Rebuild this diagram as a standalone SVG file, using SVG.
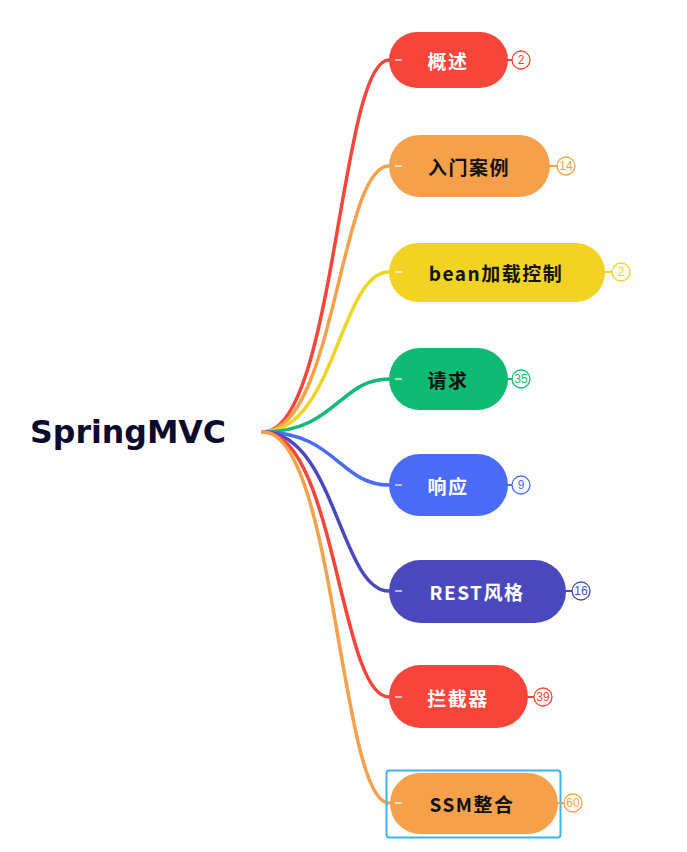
<svg xmlns="http://www.w3.org/2000/svg" width="687" height="852" viewBox="0 0 687 852">
<style>
.lbl{font-family:"Noto Sans CJK SC","DejaVu Sans",sans-serif;font-weight:700;font-size:19px;letter-spacing:1.5px;text-anchor:middle;dominant-baseline:central}
.cnt{font-family:"Liberation Sans",Arial,sans-serif;font-size:12px;text-anchor:middle;dominant-baseline:central}
.conn{fill:none;stroke-width:3.5;stroke-linecap:round}
.tick{stroke:#fff;stroke-width:1.5;opacity:.8}
.cc{fill:#fff;stroke-width:1.3}
</style>
<rect width="687" height="852" fill="#fff"/>
<g id="connectors">
<path class="conn" stroke="#F8453B" d="M263,432 C335,432 340,60 389,60"/>
<path class="conn" stroke="#F5A14C" d="M263,432 C335,432 340,166 389,166"/>
<path class="conn" stroke="#F2D324" d="M263,432 C335,432 340,272 389,272"/>
<path class="conn" stroke="#10BA74" d="M263,432 C335,432 340,379 389,379"/>
<path class="conn" stroke="#4A6BF5" d="M263,432 C335,432 340,485 389,485"/>
<path class="conn" stroke="#4B48BE" d="M263,432 C335,432 340,591 389,591"/>
<path class="conn" stroke="#F8453B" d="M263,432 C335,432 340,697 389,697"/>
<path class="conn" stroke="#F5A14C" d="M263,432 C335,432 340,803 389,803"/>
<circle cx="263" cy="432" r="2" fill="#F5A14C"/>
</g>
<g id="root">
<text x="30" y="432" font-family="'DejaVu Sans','Noto Sans',sans-serif" font-weight="700" font-size="32" fill="#0B0B2E" dominant-baseline="central" textLength="196" lengthAdjust="spacingAndGlyphs">SpringMVC</text>
</g>
<g id="n1">
<line x1="505" y1="60" x2="512" y2="60" stroke="#F8453B" stroke-width="2"/>
<rect x="389" y="32" width="119" height="56" rx="28" fill="#F8453B"/>
<line class="tick" x1="395" y1="60" x2="402" y2="60"/>
<text class="lbl" x="448" y="60" fill="#fff">概述</text>
<circle class="cc" cx="521" cy="60" r="9" stroke="#F8453B"/>
<text class="cnt" x="521" y="60" fill="#F8453B">2</text>
</g>
<g id="n2">
<line x1="547" y1="166" x2="557" y2="166" stroke="#F5A14C" stroke-width="2"/>
<rect x="389" y="135" width="161" height="62" rx="31" fill="#F5A14C"/>
<line class="tick" x1="395" y1="166" x2="402" y2="166"/>
<text class="lbl" x="469" y="166" fill="#111">入门案例</text>
<circle class="cc" cx="566" cy="166" r="9" stroke="#F5A14C"/>
<text class="cnt" x="566" y="166" fill="#F5A14C">14</text>
</g>
<g id="n3">
<line x1="602" y1="272" x2="612" y2="272" stroke="#F2D324" stroke-width="2"/>
<rect x="389" y="243" width="216" height="59" rx="29.5" fill="#F2D324"/>
<line class="tick" x1="395" y1="272" x2="402" y2="272"/>
<text class="lbl" x="496" y="272" fill="#111">bean加载控制</text>
<circle class="cc" cx="621" cy="272" r="9" stroke="#F2D324"/>
<text class="cnt" x="621" y="272" fill="#F2D324">2</text>
</g>
<g id="n4">
<line x1="505" y1="379" x2="512" y2="379" stroke="#10BA74" stroke-width="2"/>
<rect x="389" y="348" width="119" height="62" rx="31" fill="#10BA74"/>
<line class="tick" x1="395" y1="379" x2="402" y2="379"/>
<text class="lbl" x="448" y="379" fill="#111">请求</text>
<circle class="cc" cx="521" cy="379" r="9" stroke="#10BA74"/>
<text class="cnt" x="521" y="379" fill="#10BA74">35</text>
</g>
<g id="n5">
<line x1="505" y1="485" x2="512" y2="485" stroke="#4A6BF5" stroke-width="2"/>
<rect x="389" y="454" width="119" height="62" rx="31" fill="#4A6BF5"/>
<line class="tick" x1="395" y1="485" x2="402" y2="485"/>
<text class="lbl" x="448" y="485" fill="#fff">响应</text>
<circle class="cc" cx="521" cy="485" r="9" stroke="#4A6BF5"/>
<text class="cnt" x="521" y="485" fill="#4A6BF5">9</text>
</g>
<g id="n6">
<line x1="563" y1="591" x2="572" y2="591" stroke="#4B48BE" stroke-width="2"/>
<rect x="389" y="560" width="177" height="63" rx="31.5" fill="#4B48BE"/>
<line class="tick" x1="395" y1="591" x2="402" y2="591"/>
<text class="lbl" x="477" y="591" fill="#fff">REST风格</text>
<circle class="cc" cx="581" cy="591" r="9" stroke="#4B48BE"/>
<text class="cnt" x="581" y="591" fill="#4B48BE">16</text>
</g>
<g id="n7">
<line x1="525" y1="697" x2="534" y2="697" stroke="#F8453B" stroke-width="2"/>
<rect x="389" y="665" width="139" height="63" rx="31.5" fill="#F8453B"/>
<line class="tick" x1="395" y1="697" x2="402" y2="697"/>
<text class="lbl" x="458" y="697" fill="#fff">拦截器</text>
<circle class="cc" cx="543" cy="697" r="9" stroke="#F8453B"/>
<text class="cnt" x="543" y="697" fill="#F8453B">39</text>
</g>
<g id="n8">
<rect x="386.5" y="770.5" width="174" height="67" rx="3" fill="none" stroke="#3BB4F2" stroke-width="2"/>
<line x1="555" y1="803" x2="564" y2="803" stroke="#F5A14C" stroke-width="2"/>
<rect x="390" y="773" width="168" height="61" rx="30.5" fill="#F5A14C"/>
<line class="tick" x1="395" y1="803" x2="402" y2="803"/>
<text class="lbl" x="472" y="803" fill="#111">SSM整合</text>
<circle class="cc" cx="573" cy="803" r="9" stroke="#F5A14C"/>
<text class="cnt" x="573" y="803" fill="#F5A14C">60</text>
</g>
</svg>
